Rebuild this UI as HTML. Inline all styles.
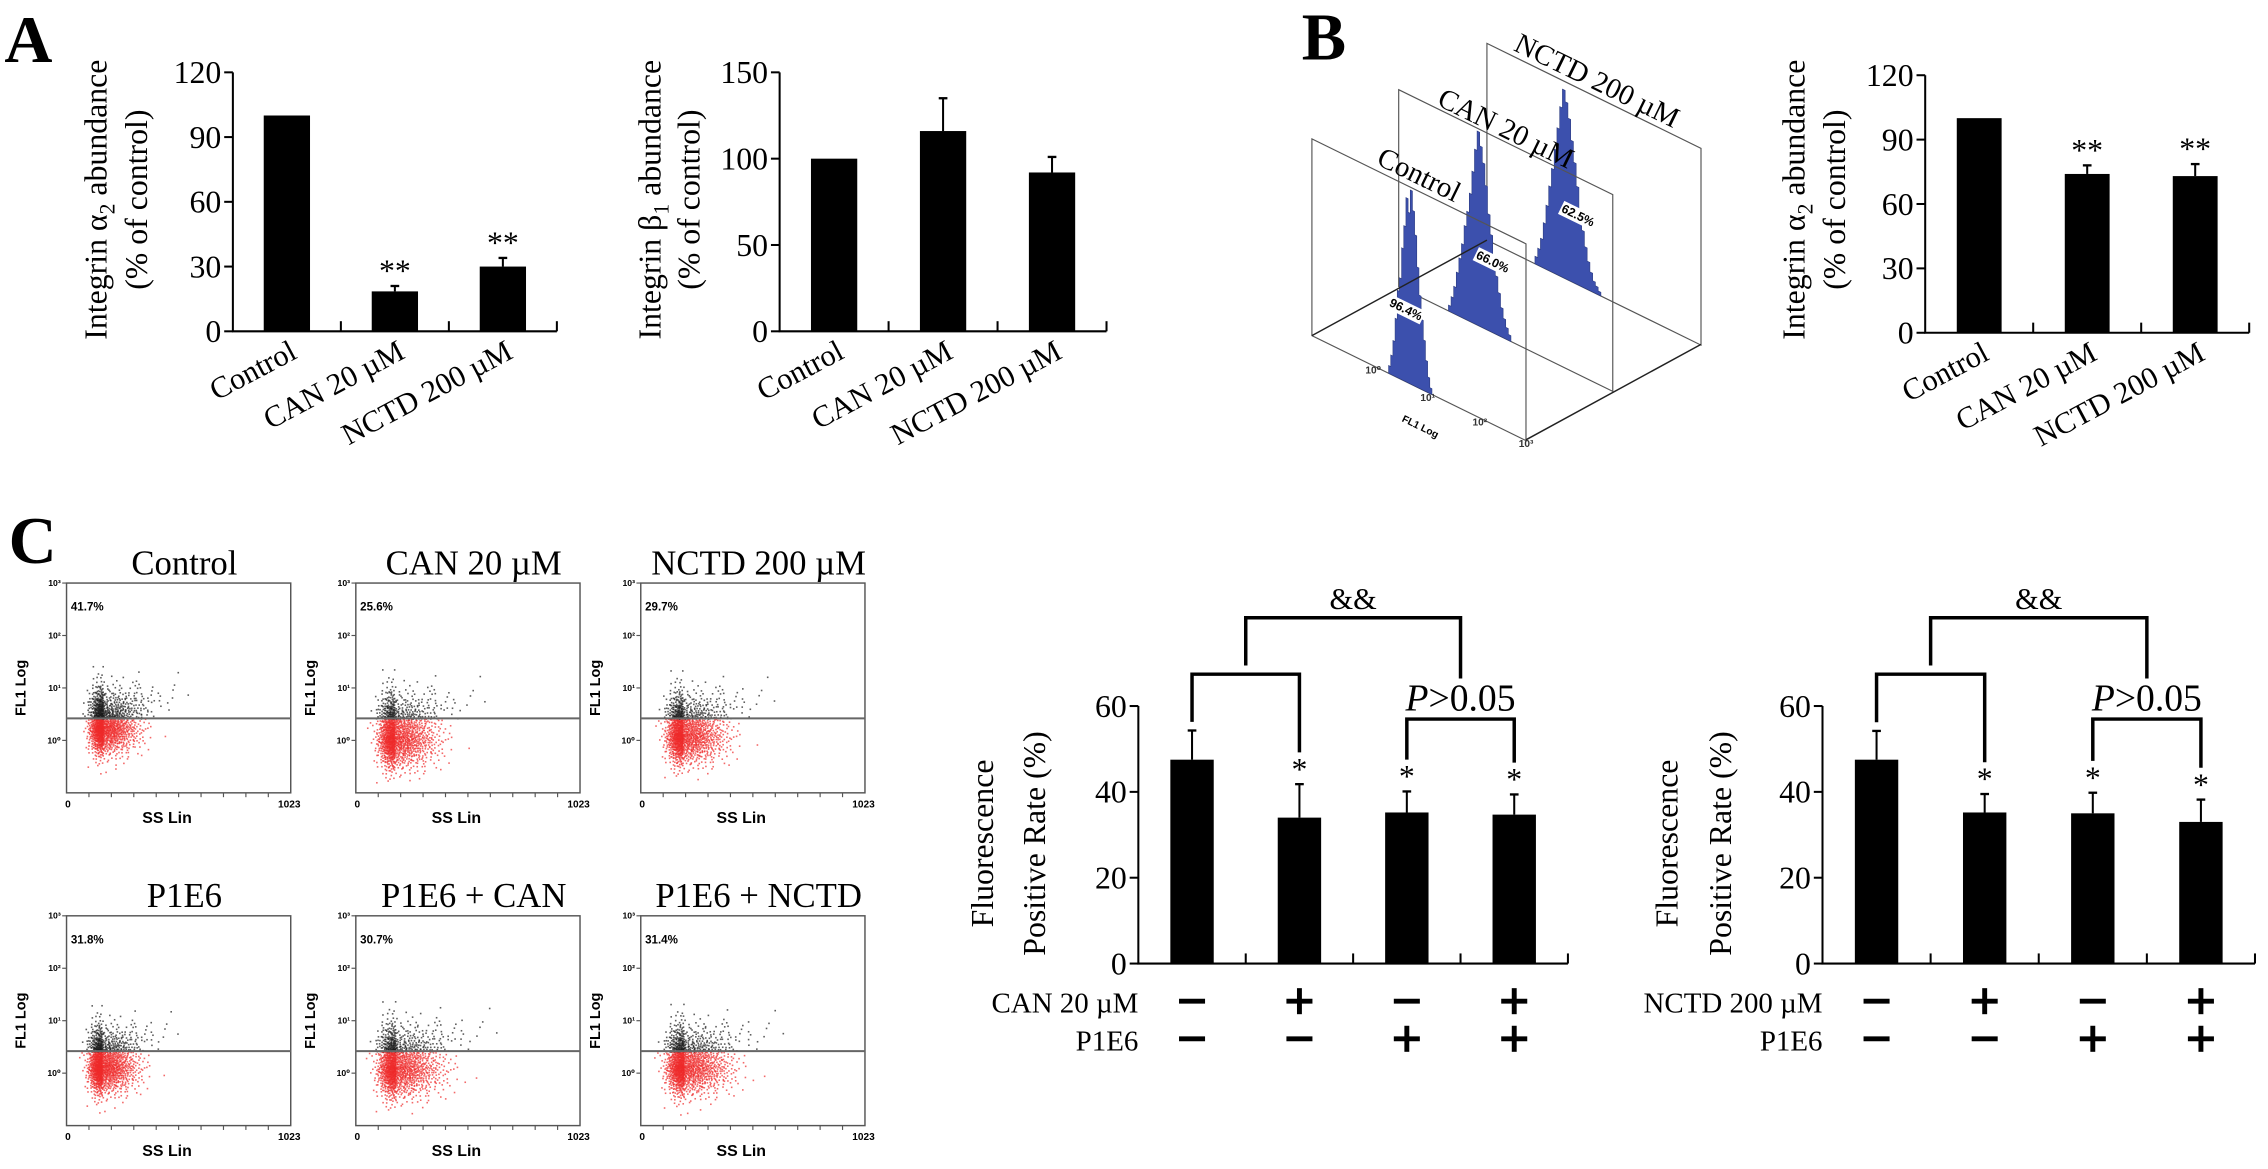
<!DOCTYPE html>
<html><head><meta charset="utf-8"><title>Integrin figure</title>
<style>
html,body{margin:0;padding:0;background:#fff;}
svg{display:block;}
.serif{font-family:"Liberation Serif","DejaVu Serif",serif;}
.sans{font-family:"Liberation Sans","DejaVu Sans",sans-serif;}
</style></head>
<body>
<svg id="fig" xmlns="http://www.w3.org/2000/svg" width="2268" height="1169" viewBox="0 0 1568 808" preserveAspectRatio="none">
  <rect x="0" y="0" width="1568" height="808" fill="#fff"/>
  <text class="serif" x="3" y="43" font-size="46" font-weight="bold">A</text>
  <text class="serif" x="900" y="41" font-size="46" font-weight="bold">B</text>
  <text class="serif" x="6" y="389" font-size="46" font-weight="bold">C</text>
</svg>
<script>
// ---------- data ----------
const catsA = ["Control", "CAN 20 \u00b5M", "NCTD 200 \u00b5M"];
const a1Values = [100, 18.5, 30];
const a1Errors = [100, 21, 34];
const a1Stars = ["", "**", "**"];
const a1Ticks = [0, 30, 60, 90, 120];
const a2Values = [100, 116, 92];
const a2Errors = [100, 135, 101];
const a2Stars = ["", "", ""];
const a2Ticks = [0, 50, 100, 150];
const bValues = [100, 74, 73];
const bErrors = [100, 78, 78.6];
const bStars = ["", "**", "**"];
const bTicks = [0, 30, 60, 90, 120];
const c1Values = [47.5, 34, 35.2, 34.7];
const c1Errors = [54.3, 41.8, 40.1, 39.4];
const c2Values = [47.5, 35.2, 35, 33];
const c2Errors = [54.2, 39.5, 39.8, 38.2];
const cStars = ["", "*", "*", "*"];
const cTicks = [0, 20, 40, 60];
const c1Row1 = ["-", "+", "-", "+"];
const c1Row2 = ["-", "-", "+", "+"];
const histCtrl = [0.04,0.1,0.18,0.3,0.45,0.52,0.68,0.8,0.95,0.88,1.0,0.9,0.78,0.62,0.48,0.36,0.26,0.16,0.08,0.03];
const histCan = [0.03,0.08,0.14,0.22,0.3,0.38,0.48,0.56,0.66,0.78,0.9,1.0,0.93,0.85,0.74,0.6,0.5,0.4,0.3,0.22,0.15,0.1,0.06,0.03];
const histNctd = [0.04,0.09,0.15,0.24,0.34,0.45,0.55,0.66,0.78,0.9,1.0,0.94,0.86,0.75,0.64,0.52,0.4,0.3,0.22,0.15,0.1,0.06,0.04,0.02];
const histPctCtrl = "96.4%";
const histPctCan = "66.0%";
const histPctNctd = "62.5%";
const scatterTitles = ["Control", "CAN 20 \u00b5M", "NCTD 200 \u00b5M", "P1E6", "P1E6 + CAN", "P1E6 + NCTD"];
const scatterPct = ["41.7%", "25.6%", "29.7%", "31.8%", "30.7%", "31.4%"];
const cloudSS = [165, 175, 190, 160, 180, 195];
const cloudLog = [0.3, 0.1, 0.15, 0.18, 0.15, 0.17];
const spreadSS = [50, 60, 60, 50, 65, 65];
const spreadLog = [0.32, 0.36, 0.34, 0.32, 0.35, 0.33];

// ---------- helpers ----------
const NS = "http://www.w3.org/2000/svg";
const svg = document.getElementById("fig");
function mk(tag, attrs, parent) {
  const e = document.createElementNS(NS, tag);
  for (const k in attrs) e.setAttribute(k, attrs[k]);
  (parent || svg).appendChild(e);
  return e;
}
function txt(str, attrs, parent) {
  const e = mk("text", attrs, parent);
  e.textContent = str;
  return e;
}

// ---------- bar chart ----------
function drawBars(cfg) {
  const g = mk("g", {});
  
  
  const n = cfg.vals.length;
  const cw = (cfg.aEnd - cfg.ax) / n;
  const ys = v => cfg.y0 - v / cfg.vmax * (cfg.y0 - cfg.yTop);
  const axis = mk("path", {d: `M${cfg.ax},${cfg.yTop} L${cfg.ax},${cfg.y0} L${cfg.aEnd},${cfg.y0}`, fill: "none", stroke: "#000", "stroke-width": 1.4}, g);
  
  
  cfg.ticks.forEach(t => {
    const tl = mk("line", {x1: cfg.ax - 6, x2: cfg.ax, y1: ys(t), y2: ys(t), stroke: "#000", "stroke-width": 1.4}, g);
    
    
    const lb = txt(String(t), {x: cfg.ax - 8, y: ys(t) + 7.5, "text-anchor": "end", "font-size": cfg.tickFont, class: "serif"}, g);
    
    
  });
  for (let i = 1; i <= n; i++) {
    const xt = cfg.ax + i * cw;
    const tk = mk("line", {x1: xt, x2: xt, y1: cfg.y0 - 7, y2: cfg.y0, stroke: "#000", "stroke-width": 1.4}, g);
    
    
  }
  const centers = [];
  cfg.vals.forEach((v, i) => {
    const cx = cfg.ax + (i + 0.5) * cw;
    centers.push(cx);
    const b = mk("rect", {x: cx - cfg.barW / 2, y: ys(v), width: cfg.barW, height: cfg.y0 - ys(v), fill: "#000"}, g);
    
    
    const e = cfg.errs[i];
    if (e > v + 0.01) {
      const el = mk("line", {x1: cx, x2: cx, y1: ys(v), y2: ys(e), stroke: "#000", "stroke-width": 1.4}, g);
      
      
      const cap = mk("line", {x1: cx - 3, x2: cx + 3, y1: ys(e), y2: ys(e), stroke: "#000", "stroke-width": 1.6}, g);
      
      
    }
    if (cfg.stars[i]) {
      const st = txt(cfg.stars[i], {x: cx, y: ys(e) + cfg.starDy, "text-anchor": "middle", "font-size": 22, class: "serif"}, g);
      
      
    }
    if (cfg.cats) {
      const lx = cx + 8, ly = cfg.y0 + 18;
      const t = txt(cfg.cats[i], {x: lx, y: ly, "text-anchor": "end", "font-size": 21, class: "serif", transform: `rotate(-28 ${lx} ${ly})`}, g);
      
      
    }
  });
  const midY = cfg.titleY;
  cfg.title.forEach((line, k) => {
    const tx = cfg.titleX[k];
    const t = txt("", {x: tx, y: midY, "text-anchor": "middle", "dominant-baseline": "central", "font-size": 22, class: "serif", transform: `rotate(-90 ${tx} ${midY})`}, g);
    
    
    line.forEach(seg => {
      const ts = mk("tspan", seg.sub ? {"baseline-shift": "sub", "font-size": 15} : {}, t);
      ts.textContent = seg.t;
    });
  });
  return {centers, ys};
}

drawBars({name: "chart-a-integrin-a2", ax: 161, aEnd: 385, y0: 229, yTop: 50, vmax: 120, ticks: a1Ticks, vals: a1Values, errs: a1Errors, stars: a1Stars, starDy: -3, barW: 32, tickFont: 22, cats: catsA,
  title: [[{t: "Integrin \u03b1"}, {t: "2", sub: true}, {t: " abundance"}], [{t: "(% of control)"}]], titleX: [66, 94], titleY: 138});
drawBars({name: "chart-a-integrin-b1", ax: 539, aEnd: 765, y0: 229, yTop: 50, vmax: 150, ticks: a2Ticks, vals: a2Values, errs: a2Errors, stars: a2Stars, starDy: -3, barW: 32, tickFont: 22, cats: catsA,
  title: [[{t: "Integrin \u03b2"}, {t: "1", sub: true}, {t: " abundance"}], [{t: "(% of control)"}]], titleX: [449, 476], titleY: 138});
drawBars({name: "chart-b-integrin-a2", ax: 1331, aEnd: 1555, y0: 230, yTop: 52, vmax: 120, ticks: bTicks, vals: bValues, errs: bErrors, stars: bStars, starDy: -3, barW: 31, tickFont: 22, cats: catsA,
  title: [[{t: "Integrin \u03b1"}, {t: "2", sub: true}, {t: " abundance"}], [{t: "(% of control)"}]], titleX: [1240, 1268], titleY: 138});

function drawC(name, ax, aEnd, vals, errs, rowLabel1, titleX) {
  const r = drawBars({name: name, ax: ax, aEnd: aEnd, y0: 666, yTop: 488, vmax: 60, ticks: cTicks, vals: vals, errs: errs, stars: cStars, starDy: -3, barW: 30, tickFont: 22, cats: null,
    title: [[{t: "Fluorescence"}], [{t: "Positive Rate (%)"}]], titleX: titleX, titleY: 583});
  const c = r.centers, ys = r.ys;
  const g = mk("g", {fill: "none", stroke: "#000", "stroke-width": 2.4});
  
  
  const l0 = ys(errs[0]) - 6, l1 = ys(errs[1]) - 22, l2 = ys(errs[2]) - 22, l3 = ys(errs[3]) - 22;
  const m01 = (c[0] + c[1]) / 2, m23 = (c[2] + c[3]) / 2;
  const b1 = mk("path", {d: `M${c[0]},${l0} L${c[0]},466 L${c[1]},466 L${c[1]},${l1}`}, g);
  
  
  const b2 = mk("path", {d: `M${c[2]},${l2} L${c[2]},497 L${c[3]},497 L${c[3]},${l3}`}, g);
  
  
  const b3 = mk("path", {d: `M${m01},460 L${m01},427 L${m23},427 L${m23},469`}, g);
  
  
  const amp = txt("&&", {x: (m01 + m23) / 2, y: 421, "text-anchor": "middle", "font-size": 21, class: "serif"});
  
  
  const p = txt("", {x: m23, y: 491, "text-anchor": "middle", "font-size": 26, class: "serif"});
  
  
  const pi = mk("tspan", {"font-style": "italic"}, p); pi.textContent = "P";
  const pr = mk("tspan", {}, p); pr.textContent = ">0.05";
  const rl1 = txt(rowLabel1, {x: ax, y: 700, "text-anchor": "end", "font-size": 20, class: "serif"});
  
  
  const rl2 = txt("P1E6", {x: ax, y: 726, "text-anchor": "end", "font-size": 20, class: "serif"});
  
  
  [c1Row1, c1Row2].forEach((row, ri) => {
    const yy = ri === 0 ? 692 : 718;
    row.forEach((s, i) => {
      const sg = mk("g", {stroke: "#000", "stroke-width": 3.4});
      
      
      mk("line", {x1: c[i] - 9, x2: c[i] + 9, y1: yy, y2: yy}, sg);
      if (s === "+") mk("line", {x1: c[i], x2: c[i], y1: yy - 9, y2: yy + 9}, sg);
    });
  });
}
drawC("chart-c-can", 787, 1084, c1Values, c1Errors, "CAN  20 \u00b5M", [679, 715]);
drawC("chart-c-nctd", 1260, 1559, c2Values, c2Errors, "NCTD  200 \u00b5M", [1152, 1189]);

// ---------- panel B: 3D histograms ----------
const SL = 0.49;
const planes = [
  {x: 1028, y: 30, hist: histNctd, pct: histPctNctd, cx: 1084, bw: 1.9, H: 130, label: "NCTD 200 \u00b5M", lx: 1104, ly: 56, px: 1091, py: 149, name: "nctd"},
  {x: 967, y: 62, hist: histCan, pct: histPctCan, cx: 1023, bw: 1.8, H: 134, label: "CAN 20 \u00b5M", lx: 1041, ly: 89, px: 1032, py: 181, name: "can"},
  {x: 907, y: 96, hist: histCtrl, pct: histPctCtrl, cx: 975, bw: 1.5, H: 134, label: "Control", lx: 981, ly: 121, px: 972, py: 214, name: "control"}
];
const PW = 148, PH = 136;
planes.forEach((p) => {
  const g = mk("g", {});
  
  
  const fr = mk("path", {d: `M${p.x},${p.y} L${p.x + PW},${p.y + PW * SL} L${p.x + PW},${p.y + PW * SL + PH} L${p.x},${p.y + PH} Z`, fill: "none", stroke: "#555", "stroke-width": 0.8}, g);
  
  
  const n = p.hist.length;
  const baseX = p.cx - n * p.bw / 2;
  const by = x => p.y + PH + (x - p.x) * SL;
  let d = `M${baseX},${by(baseX)}`;
  p.hist.forEach((h, i) => {
    const x1 = baseX + i * p.bw, x2 = x1 + p.bw;
    d += ` L${x1},${by(x1) - h * p.H} L${x2},${by(x2) - h * p.H}`;
  });
  const ex = baseX + n * p.bw;
  d += ` L${ex},${by(ex)} Z`;
  const hp = mk("path", {d: d, fill: "#3c50ad", stroke: "#2a3a80", "stroke-width": 0.4}, g);
  
  
  const lt = txt(p.label, {x: p.lx, y: p.ly, "text-anchor": "middle", "dominant-baseline": "central", "font-size": 20, class: "serif", transform: `rotate(26 ${p.lx} ${p.ly})`}, g);
  
  
  const bg = mk("rect", {x: p.px - 13, y: p.py - 5, width: 26, height: 10, fill: "#fff", transform: `rotate(26 ${p.px} ${p.py})`}, g);
  
  
  const pt = txt(p.pct, {x: p.px, y: p.py, "text-anchor": "middle", "dominant-baseline": "central", "font-size": 8.5, "font-weight": "bold", class: "sans", transform: `rotate(26 ${p.px} ${p.py})`}, g);
  
  
});
const depth = mk("path", {d: "M907,232 L1028,166 M1055,304 L1176,238", stroke: "#222", "stroke-width": 1, fill: "none"});


[["10\u2070", 944, 258], ["10\u00b9", 982, 277], ["10\u00b2", 1018, 294], ["10\u00b3", 1050, 309]].forEach(a => {
  const t = txt(a[0], {x: a[1], y: a[2], "font-size": 7, class: "sans", "font-weight": "bold", fill: "#333"});
  
  
});
const fl = txt("FL1 Log", {x: 981, y: 297, "text-anchor": "middle", "font-size": 7, "font-weight": "bold", class: "sans", transform: "rotate(26 981 297)"});



// ---------- panel C: scatter plots ----------
const boxX = [46, 246, 443], boxY = [403, 633], BW = 155, BH = 145;
const GATE = 0.42;
function halton(i, b) { let f = 1, r = 0; while (i > 0) { f /= b; r += f * (i % b); i = Math.floor(i / b); } return r; }
scatterTitles.forEach((title, k) => {
  const bx = boxX[k % 3], by = boxY[Math.floor(k / 3)];
  const g = mk("g", {});
  
  
  const tt = txt(title, {x: bx + BW / 2 + 4, y: by - 6, "text-anchor": "middle", "font-size": 24, class: "serif"}, g);
  
  
  const xs = v => bx + v / 1023 * BW;
  const yl = l => by + BH - (l + 1) / 4 * BH;
  const N = 1600;
  const pg = mk("g", {}, g);
  
  
  for (let i = 1; i <= N; i++) {
    const u1 = halton(i + 17 * k, 2) * 0.999 + 0.0005, u2 = halton(i + 17 * k, 3);
    const rr = Math.sqrt(-2 * Math.log(u1));
    const n1 = rr * Math.cos(2 * Math.PI * u2), n2 = rr * Math.sin(2 * Math.PI * u2);
    const lg = cloudLog[k] + spreadLog[k] * n2 * (n2 < 0 ? 0.85 : 1.1);
    const up = Math.max(0, lg - GATE);
    const sx = cloudSS[k] + spreadSS[k] * n1 * (n1 > 0 ? 1.6 + 2.5 * up : 0.6);
    if (sx < 40 || sx > 900 || lg < -0.8 || lg > 2.7) continue;
    const above = lg > GATE;
    const pt = mk("rect", {x: xs(sx).toFixed(1), y: yl(lg).toFixed(1), width: 1.1, height: 1.1, fill: above ? "#1a1a1a" : "#ee2a2a", "fill-opacity": above ? 0.7 : 0.7}, pg);
    
    
  }
  const box = mk("rect", {x: bx, y: by, width: BW, height: BH, fill: "none", stroke: "#555", "stroke-width": 1}, g);
  
  
  const gate = mk("line", {x1: bx, x2: bx + BW, y1: yl(GATE), y2: yl(GATE), stroke: "#666", "stroke-width": 1.4}, g);
  
  
  ["10\u2070", "10\u00b9", "10\u00b2", "10\u00b3"].forEach((lab, d) => {
    const y = yl(d);
    const tk = mk("line", {x1: bx - 3, x2: bx, y1: y, y2: y, stroke: "#555", "stroke-width": 0.8}, g);
    
    
    const tl = txt(lab, {x: bx - 4, y: y + 2, "text-anchor": "end", "font-size": 6, "font-weight": "bold", class: "sans"}, g);
    
    
  });
  for (let t = 1; t <= 9; t++) {
    const x = bx + t * BW / 10;
    const tk = mk("line", {x1: x, x2: x, y1: by + BH, y2: by + BH + 3, stroke: "#555", "stroke-width": 0.8}, g);
    
    
  }
  const x0 = txt("0", {x: bx + 1, y: by + BH + 10, "text-anchor": "middle", "font-size": 7, "font-weight": "bold", class: "sans"}, g);
  
  
  const x1 = txt("1023", {x: bx + BW - 1, y: by + BH + 10, "text-anchor": "middle", "font-size": 7, "font-weight": "bold", class: "sans"}, g);
  
  
  const xt = txt("SS Lin", {x: bx + BW / 2 - 8, y: by + BH + 21, "text-anchor": "middle", "font-size": 11, "font-weight": "bold", class: "sans"}, g);
  
  
  const yx = bx - 31, yy = by + BH / 2;
  const yt = txt("FL1 Log", {x: yx, y: yy, "text-anchor": "middle", "dominant-baseline": "central", "font-size": 10, "font-weight": "bold", class: "sans", transform: `rotate(-90 ${yx} ${yy})`}, g);
  
  
  const pc = txt(scatterPct[k], {x: bx + 3, y: by + 19, "font-size": 8, "font-weight": "bold", class: "sans"}, g);
  
  
});
</script>
</body></html>
